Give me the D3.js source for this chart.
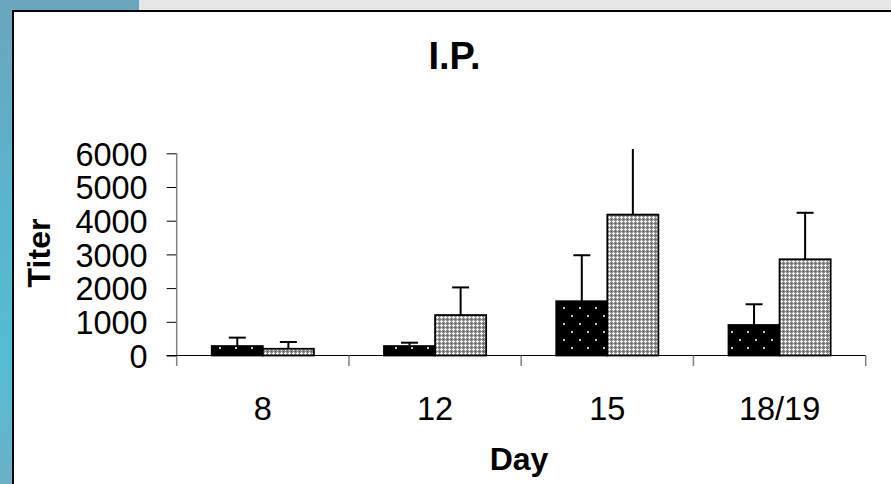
<!DOCTYPE html>
<html><head><meta charset="utf-8">
<script src="https://cdn.jsdelivr.net/npm/d3@7"></script>
<style>html,body{margin:0;padding:0;background:#fff;overflow:hidden}svg{display:block}</style>
</head><body><svg id="c" width="891" height="484"></svg>
<script>
const categories = ["8", "12", "15", "18/19"];
const seriesA = [280, 280, 1610, 905];      // black dotted bars
const errA    = [250, 100, 1365, 615];
const seriesB = [200, 1200, 4180, 2855];    // gray crosshatch bars
const errB    = [200, 820, 2000, 1380];
const yTicks  = [0, 1000, 2000, 3000, 4000, 5000, 6000];
const title = "I.P.", xTitle = "Day", yTitle = "Titer";

const svg = d3.select("#c");
const font = "'Liberation Sans', Arial, sans-serif";

// background frame
const defs = svg.append("defs");
const g1 = defs.append("linearGradient").attr("id","blue").attr("x1",0).attr("y1",0).attr("x2",0).attr("y2",1);
g1.append("stop").attr("offset","0%").attr("stop-color","#6aa6bd");
g1.append("stop").attr("offset","45%").attr("stop-color","#58b6cd");
g1.append("stop").attr("offset","75%").attr("stop-color","#55bcd3");
g1.append("stop").attr("offset","100%").attr("stop-color","#6cb0c6");
svg.append("rect").attr("x",0).attr("y",0).attr("width",891).attr("height",484).attr("fill","#e6e6e6");
svg.append("rect").attr("x",0).attr("y",0).attr("width",139).attr("height",484).attr("fill","url(#blue)");
svg.append("rect").attr("x",13).attr("y",11).attr("width",900).attr("height",500)
  .attr("fill","#fff").attr("stroke","#000").attr("stroke-width",2);

// patterns
const pd = defs.append("pattern").attr("id","dots").attr("patternUnits","userSpaceOnUse")
  .attr("width",16).attr("height",16);
pd.append("rect").attr("width",16).attr("height",16).attr("fill","#000");
pd.append("rect").attr("x",3).attr("y",3).attr("width",2).attr("height",2).attr("fill","#c8c8c8");
pd.append("rect").attr("x",11).attr("y",11).attr("width",2).attr("height",2).attr("fill","#c8c8c8");

const pc = defs.append("pattern").attr("id","cross").attr("patternUnits","userSpaceOnUse")
  .attr("width",4).attr("height",4);
pc.append("rect").attr("width",4).attr("height",4).attr("fill","#8a8a8a");
[[1,0],[0,1],[1,1],[2,1],[1,2]].forEach(([a,b])=>
  pc.append("rect").attr("x",a).attr("y",b).attr("width",1).attr("height",1).attr("fill","#f4f4f4"));
[[3,3]].forEach(([a,b])=>
  pc.append("rect").attr("x",a).attr("y",b).attr("width",1).attr("height",1).attr("fill","#5a5a5a"));

defs.append("clipPath").attr("id","plotclip").append("rect")
  .attr("x",100).attr("y",149).attr("width",800).attr("height",300);

// scales
const x0 = 176.7, x1 = 865.7, yB = 355.5, yT = 153.3;
const x = d3.scaleBand().domain(categories).range([x0, x1]).paddingInner(0.407).paddingOuter(0.2035);
const xs = d3.scaleBand().domain(["A","B"]).range([0, x.bandwidth()]);
const y = d3.scaleLinear().domain([0, 6000]).range([yB, yT]);

// title
svg.append("text").attr("x",454.5).attr("y",69).attr("text-anchor","middle")
  .attr("font-family",font).attr("font-weight","bold").attr("font-size",38).text(title);

// y axis
const ya = svg.append("g").attr("transform",`translate(${x0},0)`)
  .call(d3.axisLeft(y).tickValues(yTicks).tickSize(10).tickSizeOuter(0).tickFormat(d3.format("d")));
ya.select(".domain").remove();
ya.selectAll(".tick line").attr("stroke","#000");
ya.selectAll(".tick text").attr("font-family",font).attr("font-size",32.5).attr("fill","#000")
  .attr("x",-29).attr("dy","0.36em");
svg.append("line").attr("x1",x0).attr("x2",x0).attr("y1",yT).attr("y2",366)
  .attr("stroke","#808080").attr("stroke-width",1.5);

// x axis
svg.append("line").attr("x1",x0-10).attr("x2",x1).attr("y1",yB).attr("y2",yB).attr("stroke","#000").attr("stroke-width",1);
const bounds = d3.range(categories.length + 1).map(i => x0 + i * x.step());
svg.selectAll(".xb").data(bounds.slice(1)).join("line")
  .attr("x1",d=>d).attr("x2",d=>d).attr("y1",yB).attr("y2",366).attr("stroke","#808080").attr("stroke-width",1.5);
svg.selectAll(".xl").data(categories).join("text")
  .attr("x",d=>x(d)+x.bandwidth()/2).attr("y",420).attr("text-anchor","middle")
  .attr("font-family",font).attr("font-size",32.5).text(d=>d);

// bars
const rows = categories.map((c,i)=>({c, a:seriesA[i], ea:errA[i], b:seriesB[i], eb:errB[i]}));
const bars = [];
rows.forEach(r=>{
  bars.push({c:r.c, k:"A", v:r.a, e:r.ea, fill:"url(#dots)"});
  bars.push({c:r.c, k:"B", v:r.b, e:r.eb, fill:"url(#cross)"});
});
const plot = svg.append("g").attr("clip-path","url(#plotclip)");
const eg = plot.selectAll(".err").data(bars).join("g");
eg.append("line").attr("x1",d=>x(d.c)+xs(d.k)+xs.bandwidth()/2).attr("x2",d=>x(d.c)+xs(d.k)+xs.bandwidth()/2)
  .attr("y1",d=>y(d.v)).attr("y2",d=>y(d.v+d.e)).attr("stroke","#000").attr("stroke-width",2);
eg.append("line").attr("x1",d=>x(d.c)+xs(d.k)+xs.bandwidth()/2-8.5).attr("x2",d=>x(d.c)+xs(d.k)+xs.bandwidth()/2+8.5)
  .attr("y1",d=>y(d.v+d.e)).attr("y2",d=>y(d.v+d.e)).attr("stroke","#000").attr("stroke-width",2);
plot.selectAll(".bar").data(bars).join("rect")
  .attr("x",d=>x(d.c)+xs(d.k)).attr("width",xs.bandwidth())
  .attr("y",d=>y(d.v)).attr("height",d=>yB-y(d.v))
  .attr("fill",d=>d.fill).attr("stroke","#000").attr("stroke-width",1.8);

// axis titles
svg.append("text").attr("x",519).attr("y",470).attr("text-anchor","middle")
  .attr("font-family",font).attr("font-weight","bold").attr("font-size",32).text(xTitle);
svg.append("text").attr("transform","translate(50,253) rotate(-90)").attr("text-anchor","middle")
  .attr("font-family",font).attr("font-weight","bold").attr("font-size",32).text(yTitle);
</script></body></html>
